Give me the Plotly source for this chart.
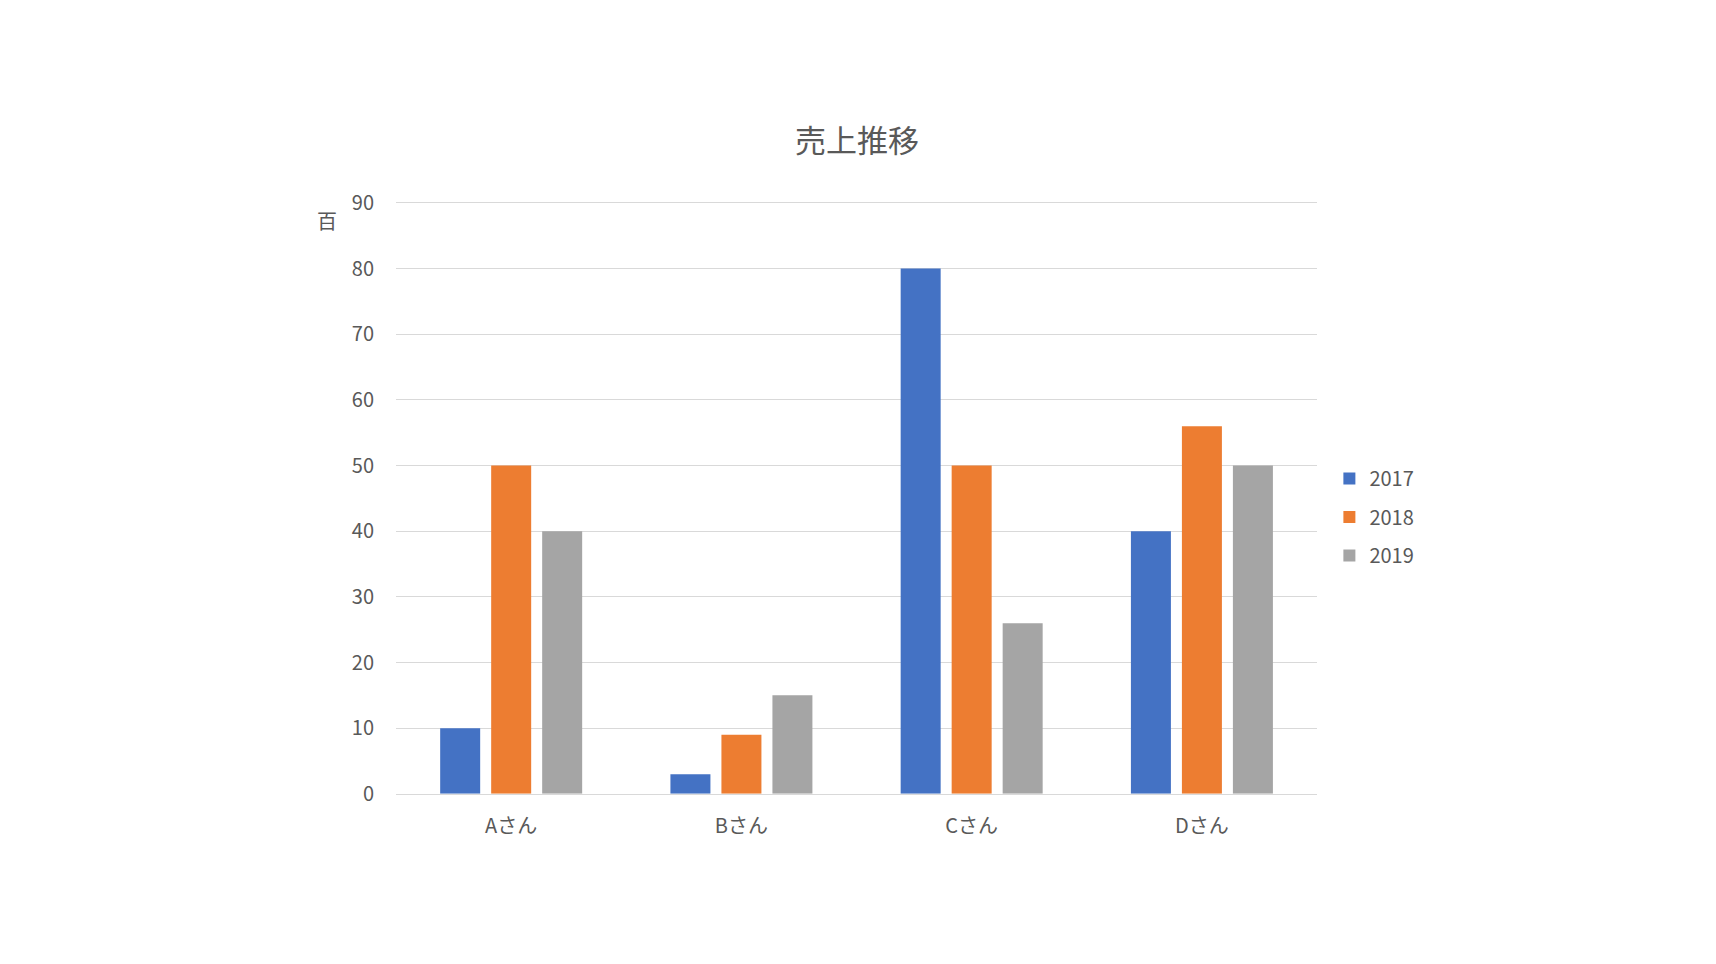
import plotly.graph_objects as go

# 売上推移データ (単位: 百)
names = ["Aさん", "Bさん", "Cさん", "Dさん"]
years = ["2017", "2018", "2019"]
sales_2017 = [10, 3, 80, 40]
sales_2018 = [50, 9, 50, 56]
sales_2019 = [40, 15, 26, 50]

colors = ["#4472C4", "#ED7D31", "#A5A5A5"]
font_family = "Noto Sans CJK JP"
text_color = "#595959"

fig = go.Figure()
for year, vals, c in zip(years, [sales_2017, sales_2018, sales_2019], colors):
    fig.add_trace(go.Bar(x=names, y=vals, name=year, legendgroup=year,
                         marker_color=c, marker_line_width=0))

fig.update_layout(
    width=1716, height=964,
    paper_bgcolor="white", plot_bgcolor="white",
    font=dict(family=font_family, color=text_color, size=20),
    title=dict(text="売上推移", x=0.4994, xanchor="center", y=0.854, yanchor="middle",
               font=dict(size=31, color=text_color)),
    barmode="group", bargap=0.3355, bargroupgap=0.2157,
    margin=dict(l=0, r=0, t=0, b=0),
    xaxis=dict(domain=[0.2308, 0.7675], showgrid=False, showline=True, linecolor="#D9D9D9",
               linewidth=1, ticks="", ticklabelstandoff=14,
               tickfont=dict(size=20, color=text_color)),
    # 上端の90の目盛線が消えないように少しだけ余白を持たせる
    yaxis=dict(domain=[0.1677, 0.8005], range=[0, 90.3], tickvals=list(range(0, 100, 10)),
               showgrid=True, gridcolor="#D9D9D9", gridwidth=1, zeroline=False, showline=False,
               ticks="", ticklabelstandoff=21, tickfont=dict(size=20, color=text_color)),
    legend=dict(x=0.7747, y=0.525, xanchor="left", yanchor="top", orientation="v",
                traceorder="grouped", font=dict(size=20, color=text_color), itemwidth=30,
                tracegroupgap=9.5, bgcolor="rgba(0,0,0,0)"),
)

# 表示単位ラベル
fig.add_annotation(text="百", xref="paper", yref="paper", x=0.1906, y=0.78,
                   xanchor="center", yanchor="middle",
                   showarrow=False, font=dict(size=20, color=text_color))

fig.write_html("out.html", config={"displayModeBar": False},
               post_script="document.body.style.margin='0';")
